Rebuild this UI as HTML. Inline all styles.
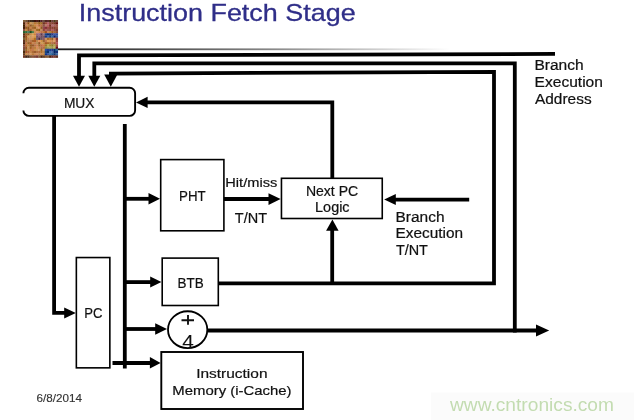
<!DOCTYPE html>
<html><head><meta charset="utf-8">
<style>
html,body{margin:0;padding:0;background:#fff;}
body{width:634px;height:420px;overflow:hidden;position:relative;}
svg{position:absolute;left:0;top:0;}
text{will-change:transform;}
text{font-family:"Liberation Sans",sans-serif;}
</style></head><body>
<svg width="634" height="420" viewBox="0 0 634 420">
<defs>
<linearGradient id="tg" x1="58" y1="0" x2="450" y2="0" gradientUnits="userSpaceOnUse">
<stop offset="0" stop-color="#1a1a1a"/><stop offset="0.55" stop-color="#888"/><stop offset="1" stop-color="#fff"/>
</linearGradient>
<filter id="bl" x="-10%" y="-10%" width="120%" height="120%"><feGaussianBlur stdDeviation="0.45"/></filter>
</defs>
<rect width="634" height="420" fill="#fff"/>
<!-- title -->
<text x="78.8" y="20.8" font-size="24" fill="#2f2e88" stroke="#2f2e88" stroke-width="0.3" textLength="276.8" lengthAdjust="spacingAndGlyphs">Instruction Fetch Stage</text>
<!-- chip -->
<g filter="url(#bl)">
<rect x="23.00" y="20.00" width="2.42" height="2.46" fill="#80613b"/>
<rect x="25.18" y="20.00" width="2.42" height="2.46" fill="#6f5133"/>
<rect x="27.35" y="20.00" width="2.42" height="2.46" fill="#4d2c1f"/>
<rect x="29.52" y="20.00" width="2.42" height="2.46" fill="#402b14"/>
<rect x="31.70" y="20.00" width="2.42" height="2.46" fill="#3a291c"/>
<rect x="33.88" y="20.00" width="2.42" height="2.46" fill="#3e1707"/>
<rect x="36.05" y="20.00" width="2.42" height="2.46" fill="#4d1a18"/>
<rect x="38.22" y="20.00" width="2.42" height="2.46" fill="#2f0f02"/>
<rect x="40.40" y="20.00" width="2.42" height="2.46" fill="#57242a"/>
<rect x="42.58" y="20.00" width="2.42" height="2.46" fill="#6b4f41"/>
<rect x="44.75" y="20.00" width="2.42" height="2.46" fill="#4f2621"/>
<rect x="46.92" y="20.00" width="2.42" height="2.46" fill="#5a2b2e"/>
<rect x="49.10" y="20.00" width="2.42" height="2.46" fill="#3e2406"/>
<rect x="51.27" y="20.00" width="2.42" height="2.46" fill="#6b3c3e"/>
<rect x="53.45" y="20.00" width="2.42" height="2.46" fill="#503e1b"/>
<rect x="55.62" y="20.00" width="2.42" height="2.46" fill="#704737"/>
<rect x="23.00" y="22.21" width="2.42" height="2.46" fill="#4f200a"/>
<rect x="25.18" y="22.21" width="2.42" height="2.46" fill="#bb7954"/>
<rect x="27.35" y="22.21" width="2.42" height="2.46" fill="#8e4e0f"/>
<rect x="29.52" y="22.21" width="2.42" height="2.46" fill="#d09a56"/>
<rect x="31.70" y="22.21" width="2.42" height="2.46" fill="#bf8f57"/>
<rect x="33.88" y="22.21" width="2.42" height="2.46" fill="#b9762f"/>
<rect x="36.05" y="22.21" width="2.42" height="2.46" fill="#b57c43"/>
<rect x="38.22" y="22.21" width="2.42" height="2.46" fill="#966112"/>
<rect x="40.40" y="22.21" width="2.42" height="2.46" fill="#a06f22"/>
<rect x="42.58" y="22.21" width="2.42" height="2.46" fill="#6e3128"/>
<rect x="44.75" y="22.21" width="2.42" height="2.46" fill="#974934"/>
<rect x="46.92" y="22.21" width="2.42" height="2.46" fill="#b56168"/>
<rect x="49.10" y="22.21" width="2.42" height="2.46" fill="#894634"/>
<rect x="51.27" y="22.21" width="2.42" height="2.46" fill="#863d2c"/>
<rect x="53.45" y="22.21" width="2.42" height="2.46" fill="#743421"/>
<rect x="55.62" y="22.21" width="2.42" height="2.46" fill="#5e0d0f"/>
<rect x="23.00" y="24.42" width="2.42" height="2.46" fill="#432006"/>
<rect x="25.18" y="24.42" width="2.42" height="2.46" fill="#c8805e"/>
<rect x="27.35" y="24.42" width="2.42" height="2.46" fill="#bb7e3a"/>
<rect x="29.52" y="24.42" width="2.42" height="2.46" fill="#935729"/>
<rect x="31.70" y="24.42" width="2.42" height="2.46" fill="#a77a38"/>
<rect x="33.88" y="24.42" width="2.42" height="2.46" fill="#ca8541"/>
<rect x="36.05" y="24.42" width="2.42" height="2.46" fill="#d78957"/>
<rect x="38.22" y="24.42" width="2.42" height="2.46" fill="#b3632e"/>
<rect x="40.40" y="24.42" width="2.42" height="2.46" fill="#b86c42"/>
<rect x="42.58" y="24.42" width="2.42" height="2.46" fill="#895144"/>
<rect x="44.75" y="24.42" width="2.42" height="2.46" fill="#b87d6a"/>
<rect x="46.92" y="24.42" width="2.42" height="2.46" fill="#bc6162"/>
<rect x="49.10" y="24.42" width="2.42" height="2.46" fill="#752b1f"/>
<rect x="51.27" y="24.42" width="2.42" height="2.46" fill="#b56a70"/>
<rect x="53.45" y="24.42" width="2.42" height="2.46" fill="#a6615d"/>
<rect x="55.62" y="24.42" width="2.42" height="2.46" fill="#9d5444"/>
<rect x="23.00" y="26.64" width="2.42" height="2.46" fill="#421f0b"/>
<rect x="25.18" y="26.64" width="2.42" height="2.46" fill="#99571d"/>
<rect x="27.35" y="26.64" width="2.42" height="2.46" fill="#8c521d"/>
<rect x="29.52" y="26.64" width="2.42" height="2.46" fill="#c88248"/>
<rect x="31.70" y="26.64" width="2.42" height="2.46" fill="#a76934"/>
<rect x="33.88" y="26.64" width="2.42" height="2.46" fill="#9a6322"/>
<rect x="36.05" y="26.64" width="2.42" height="2.46" fill="#cb965e"/>
<rect x="38.22" y="26.64" width="2.42" height="2.46" fill="#dc8e62"/>
<rect x="40.40" y="26.64" width="2.42" height="2.46" fill="#8c5b1d"/>
<rect x="42.58" y="26.64" width="2.42" height="2.46" fill="#944952"/>
<rect x="44.75" y="26.64" width="2.42" height="2.46" fill="#842d38"/>
<rect x="46.92" y="26.64" width="2.42" height="2.46" fill="#9d4d41"/>
<rect x="49.10" y="26.64" width="2.42" height="2.46" fill="#833c2c"/>
<rect x="51.27" y="26.64" width="2.42" height="2.46" fill="#883e33"/>
<rect x="53.45" y="26.64" width="2.42" height="2.46" fill="#863d2a"/>
<rect x="55.62" y="26.64" width="2.42" height="2.46" fill="#944f3d"/>
<rect x="23.00" y="28.85" width="2.42" height="2.46" fill="#874f46"/>
<rect x="25.18" y="28.85" width="2.42" height="2.46" fill="#c48a3e"/>
<rect x="27.35" y="28.85" width="2.42" height="2.46" fill="#93532b"/>
<rect x="29.52" y="28.85" width="2.42" height="2.46" fill="#9e6333"/>
<rect x="31.70" y="28.85" width="2.42" height="2.46" fill="#be894e"/>
<rect x="33.88" y="28.85" width="2.42" height="2.46" fill="#d09059"/>
<rect x="36.05" y="28.85" width="2.42" height="2.46" fill="#a26a28"/>
<rect x="38.22" y="28.85" width="2.42" height="2.46" fill="#945e13"/>
<rect x="40.40" y="28.85" width="2.42" height="2.46" fill="#c58c61"/>
<rect x="42.58" y="28.85" width="2.42" height="2.46" fill="#894839"/>
<rect x="44.75" y="28.85" width="2.42" height="2.46" fill="#b26061"/>
<rect x="46.92" y="28.85" width="2.42" height="2.46" fill="#965d51"/>
<rect x="49.10" y="28.85" width="2.42" height="2.46" fill="#954049"/>
<rect x="51.27" y="28.85" width="2.42" height="2.46" fill="#ac5b52"/>
<rect x="53.45" y="28.85" width="2.42" height="2.46" fill="#944c4b"/>
<rect x="55.62" y="28.85" width="2.42" height="2.46" fill="#7c3a2e"/>
<rect x="23.00" y="31.06" width="2.42" height="2.46" fill="#25612c"/>
<rect x="25.18" y="31.06" width="2.42" height="2.46" fill="#346838"/>
<rect x="27.35" y="31.06" width="2.42" height="2.46" fill="#507c61"/>
<rect x="29.52" y="31.06" width="2.42" height="2.46" fill="#164917"/>
<rect x="31.70" y="31.06" width="2.42" height="2.46" fill="#4e7d4b"/>
<rect x="33.88" y="31.06" width="2.42" height="2.46" fill="#c89052"/>
<rect x="36.05" y="31.06" width="2.42" height="2.46" fill="#dc9163"/>
<rect x="38.22" y="31.06" width="2.42" height="2.46" fill="#cb8348"/>
<rect x="40.40" y="31.06" width="2.42" height="2.46" fill="#be6c46"/>
<rect x="42.58" y="31.06" width="2.42" height="2.46" fill="#bd763a"/>
<rect x="44.75" y="31.06" width="2.42" height="2.46" fill="#9e4e1c"/>
<rect x="46.92" y="31.06" width="2.42" height="2.46" fill="#c88260"/>
<rect x="49.10" y="31.06" width="2.42" height="2.46" fill="#b18234"/>
<rect x="51.27" y="31.06" width="2.42" height="2.46" fill="#a25122"/>
<rect x="53.45" y="31.06" width="2.42" height="2.46" fill="#a9662f"/>
<rect x="55.62" y="31.06" width="2.42" height="2.46" fill="#874a36"/>
<rect x="23.00" y="33.27" width="2.42" height="2.46" fill="#5e3112"/>
<rect x="25.18" y="33.27" width="2.42" height="2.46" fill="#a15820"/>
<rect x="27.35" y="33.27" width="2.42" height="2.46" fill="#91531a"/>
<rect x="29.52" y="33.27" width="2.42" height="2.46" fill="#c58a4a"/>
<rect x="31.70" y="33.27" width="2.42" height="2.46" fill="#dba053"/>
<rect x="33.88" y="33.27" width="2.42" height="2.46" fill="#d08142"/>
<rect x="36.05" y="33.27" width="2.42" height="2.46" fill="#97646e"/>
<rect x="38.22" y="33.27" width="2.42" height="2.46" fill="#936383"/>
<rect x="40.40" y="33.27" width="2.42" height="2.46" fill="#583548"/>
<rect x="42.58" y="33.27" width="2.42" height="2.46" fill="#967280"/>
<rect x="44.75" y="33.27" width="2.42" height="2.46" fill="#134788"/>
<rect x="46.92" y="33.27" width="2.42" height="2.46" fill="#0b2c75"/>
<rect x="49.10" y="33.27" width="2.42" height="2.46" fill="#0a326f"/>
<rect x="51.27" y="33.27" width="2.42" height="2.46" fill="#2d3786"/>
<rect x="53.45" y="33.27" width="2.42" height="2.46" fill="#3857a8"/>
<rect x="55.62" y="33.27" width="2.42" height="2.46" fill="#324e9d"/>
<rect x="23.00" y="35.48" width="2.42" height="2.46" fill="#68331d"/>
<rect x="25.18" y="35.48" width="2.42" height="2.46" fill="#9d511b"/>
<rect x="27.35" y="35.48" width="2.42" height="2.46" fill="#d6a156"/>
<rect x="29.52" y="35.48" width="2.42" height="2.46" fill="#c89461"/>
<rect x="31.70" y="35.48" width="2.42" height="2.46" fill="#dfa05e"/>
<rect x="33.88" y="35.48" width="2.42" height="2.46" fill="#d99d4f"/>
<rect x="36.05" y="35.48" width="2.42" height="2.46" fill="#765063"/>
<rect x="38.22" y="35.48" width="2.42" height="2.46" fill="#885a6f"/>
<rect x="40.40" y="35.48" width="2.42" height="2.46" fill="#71495c"/>
<rect x="42.58" y="35.48" width="2.42" height="2.46" fill="#755962"/>
<rect x="44.75" y="35.48" width="2.42" height="2.46" fill="#193485"/>
<rect x="46.92" y="35.48" width="2.42" height="2.46" fill="#416bac"/>
<rect x="49.10" y="35.48" width="2.42" height="2.46" fill="#1c4076"/>
<rect x="51.27" y="35.48" width="2.42" height="2.46" fill="#3669a6"/>
<rect x="53.45" y="35.48" width="2.42" height="2.46" fill="#0a1a6d"/>
<rect x="55.62" y="35.48" width="2.42" height="2.46" fill="#3a5b90"/>
<rect x="23.00" y="37.69" width="2.42" height="2.46" fill="#766437"/>
<rect x="25.18" y="37.69" width="2.42" height="2.46" fill="#a15e23"/>
<rect x="27.35" y="37.69" width="2.42" height="2.46" fill="#c38250"/>
<rect x="29.52" y="37.69" width="2.42" height="2.46" fill="#cb915a"/>
<rect x="31.70" y="37.69" width="2.42" height="2.46" fill="#d48e4d"/>
<rect x="33.88" y="37.69" width="2.42" height="2.46" fill="#ad7326"/>
<rect x="36.05" y="37.69" width="2.42" height="2.46" fill="#715b6f"/>
<rect x="38.22" y="37.69" width="2.42" height="2.46" fill="#4f2c3c"/>
<rect x="40.40" y="37.69" width="2.42" height="2.46" fill="#69565c"/>
<rect x="42.58" y="37.69" width="2.42" height="2.46" fill="#8c5866"/>
<rect x="44.75" y="37.69" width="2.42" height="2.46" fill="#ca9664"/>
<rect x="46.92" y="37.69" width="2.42" height="2.46" fill="#a76a25"/>
<rect x="49.10" y="37.69" width="2.42" height="2.46" fill="#b77134"/>
<rect x="51.27" y="37.69" width="2.42" height="2.46" fill="#965e1d"/>
<rect x="53.45" y="37.69" width="2.42" height="2.46" fill="#de9062"/>
<rect x="55.62" y="37.69" width="2.42" height="2.46" fill="#84312f"/>
<rect x="23.00" y="39.91" width="2.42" height="2.46" fill="#613120"/>
<rect x="25.18" y="39.91" width="2.42" height="2.46" fill="#a07033"/>
<rect x="27.35" y="39.91" width="2.42" height="2.46" fill="#b97e4d"/>
<rect x="29.52" y="39.91" width="2.42" height="2.46" fill="#b6764e"/>
<rect x="31.70" y="39.91" width="2.42" height="2.46" fill="#a3642d"/>
<rect x="33.88" y="39.91" width="2.42" height="2.46" fill="#af5a26"/>
<rect x="36.05" y="39.91" width="2.42" height="2.46" fill="#bc864c"/>
<rect x="38.22" y="39.91" width="2.42" height="2.46" fill="#e39159"/>
<rect x="40.40" y="39.91" width="2.42" height="2.46" fill="#cf9041"/>
<rect x="42.58" y="39.91" width="2.42" height="2.46" fill="#9a662f"/>
<rect x="44.75" y="39.91" width="2.42" height="2.46" fill="#c07851"/>
<rect x="46.92" y="39.91" width="2.42" height="2.46" fill="#dca058"/>
<rect x="49.10" y="39.91" width="2.42" height="2.46" fill="#dd8e50"/>
<rect x="51.27" y="39.91" width="2.42" height="2.46" fill="#c8854c"/>
<rect x="53.45" y="39.91" width="2.42" height="2.46" fill="#e19e66"/>
<rect x="55.62" y="39.91" width="2.42" height="2.46" fill="#974943"/>
<rect x="23.00" y="42.12" width="2.42" height="2.46" fill="#4a2307"/>
<rect x="25.18" y="42.12" width="2.42" height="2.46" fill="#c16f44"/>
<rect x="27.35" y="42.12" width="2.42" height="2.46" fill="#936423"/>
<rect x="29.52" y="42.12" width="2.42" height="2.46" fill="#a95421"/>
<rect x="31.70" y="42.12" width="2.42" height="2.46" fill="#c88750"/>
<rect x="33.88" y="42.12" width="2.42" height="2.46" fill="#c27b4e"/>
<rect x="36.05" y="42.12" width="2.42" height="2.46" fill="#b78b53"/>
<rect x="38.22" y="42.12" width="2.42" height="2.46" fill="#935220"/>
<rect x="40.40" y="42.12" width="2.42" height="2.46" fill="#cd9953"/>
<rect x="42.58" y="42.12" width="2.42" height="2.46" fill="#c18e46"/>
<rect x="44.75" y="42.12" width="2.42" height="2.46" fill="#a45424"/>
<rect x="46.92" y="42.12" width="2.42" height="2.46" fill="#a86624"/>
<rect x="49.10" y="42.12" width="2.42" height="2.46" fill="#b07230"/>
<rect x="51.27" y="42.12" width="2.42" height="2.46" fill="#b16c46"/>
<rect x="53.45" y="42.12" width="2.42" height="2.46" fill="#a8602c"/>
<rect x="55.62" y="42.12" width="2.42" height="2.46" fill="#b0555d"/>
<rect x="23.00" y="44.33" width="2.42" height="2.46" fill="#854c37"/>
<rect x="25.18" y="44.33" width="2.42" height="2.46" fill="#b9672a"/>
<rect x="27.35" y="44.33" width="2.42" height="2.46" fill="#bc823c"/>
<rect x="29.52" y="44.33" width="2.42" height="2.46" fill="#945d22"/>
<rect x="31.70" y="44.33" width="2.42" height="2.46" fill="#955629"/>
<rect x="33.88" y="44.33" width="2.42" height="2.46" fill="#b87449"/>
<rect x="36.05" y="44.33" width="2.42" height="2.46" fill="#cd8052"/>
<rect x="38.22" y="44.33" width="2.42" height="2.46" fill="#9d6126"/>
<rect x="40.40" y="44.33" width="2.42" height="2.46" fill="#b96641"/>
<rect x="42.58" y="44.33" width="2.42" height="2.46" fill="#cc7a43"/>
<rect x="44.75" y="44.33" width="2.42" height="2.46" fill="#987829"/>
<rect x="46.92" y="44.33" width="2.42" height="2.46" fill="#b8ac4d"/>
<rect x="49.10" y="44.33" width="2.42" height="2.46" fill="#a1892d"/>
<rect x="51.27" y="44.33" width="2.42" height="2.46" fill="#887828"/>
<rect x="53.45" y="44.33" width="2.42" height="2.46" fill="#b0a04f"/>
<rect x="55.62" y="44.33" width="2.42" height="2.46" fill="#9b4d39"/>
<rect x="23.00" y="46.54" width="2.42" height="2.46" fill="#824a3d"/>
<rect x="25.18" y="46.54" width="2.42" height="2.46" fill="#99521f"/>
<rect x="27.35" y="46.54" width="2.42" height="2.46" fill="#c9935b"/>
<rect x="29.52" y="46.54" width="2.42" height="2.46" fill="#9c5e22"/>
<rect x="31.70" y="46.54" width="2.42" height="2.46" fill="#bc7845"/>
<rect x="33.88" y="46.54" width="2.42" height="2.46" fill="#ba7f3e"/>
<rect x="36.05" y="46.54" width="2.42" height="2.46" fill="#d98d5c"/>
<rect x="38.22" y="46.54" width="2.42" height="2.46" fill="#c18249"/>
<rect x="40.40" y="46.54" width="2.42" height="2.46" fill="#ad6d4b"/>
<rect x="42.58" y="46.54" width="2.42" height="2.46" fill="#b96841"/>
<rect x="44.75" y="46.54" width="2.42" height="2.46" fill="#95903d"/>
<rect x="46.92" y="46.54" width="2.42" height="2.46" fill="#a69f5c"/>
<rect x="49.10" y="46.54" width="2.42" height="2.46" fill="#a7a85d"/>
<rect x="51.27" y="46.54" width="2.42" height="2.46" fill="#9e9349"/>
<rect x="53.45" y="46.54" width="2.42" height="2.46" fill="#b9b958"/>
<rect x="55.62" y="46.54" width="2.42" height="2.46" fill="#6b0e1d"/>
<rect x="23.00" y="48.75" width="2.42" height="2.46" fill="#755242"/>
<rect x="25.18" y="48.75" width="2.42" height="2.46" fill="#976929"/>
<rect x="27.35" y="48.75" width="2.42" height="2.46" fill="#c58849"/>
<rect x="29.52" y="48.75" width="2.42" height="2.46" fill="#c5793e"/>
<rect x="31.70" y="48.75" width="2.42" height="2.46" fill="#c47a51"/>
<rect x="33.88" y="48.75" width="2.42" height="2.46" fill="#cb904b"/>
<rect x="36.05" y="48.75" width="2.42" height="2.46" fill="#c8955a"/>
<rect x="38.22" y="48.75" width="2.42" height="2.46" fill="#cf9468"/>
<rect x="40.40" y="48.75" width="2.42" height="2.46" fill="#9f6721"/>
<rect x="42.58" y="48.75" width="2.42" height="2.46" fill="#d19861"/>
<rect x="44.75" y="48.75" width="2.42" height="2.46" fill="#2b519c"/>
<rect x="46.92" y="48.75" width="2.42" height="2.46" fill="#223c8c"/>
<rect x="49.10" y="48.75" width="2.42" height="2.46" fill="#1a418a"/>
<rect x="51.27" y="48.75" width="2.42" height="2.46" fill="#243689"/>
<rect x="53.45" y="48.75" width="2.42" height="2.46" fill="#002b6b"/>
<rect x="55.62" y="48.75" width="2.42" height="2.46" fill="#2c6593"/>
<rect x="23.00" y="50.96" width="2.42" height="2.46" fill="#4a2e09"/>
<rect x="25.18" y="50.96" width="2.42" height="2.46" fill="#a9532c"/>
<rect x="27.35" y="50.96" width="2.42" height="2.46" fill="#ad6336"/>
<rect x="29.52" y="50.96" width="2.42" height="2.46" fill="#c68648"/>
<rect x="31.70" y="50.96" width="2.42" height="2.46" fill="#ac6c37"/>
<rect x="33.88" y="50.96" width="2.42" height="2.46" fill="#9b5c2d"/>
<rect x="36.05" y="50.96" width="2.42" height="2.46" fill="#b17040"/>
<rect x="38.22" y="50.96" width="2.42" height="2.46" fill="#b56d3a"/>
<rect x="40.40" y="50.96" width="2.42" height="2.46" fill="#af6e2b"/>
<rect x="42.58" y="50.96" width="2.42" height="2.46" fill="#be854a"/>
<rect x="44.75" y="50.96" width="2.42" height="2.46" fill="#1a477e"/>
<rect x="46.92" y="50.96" width="2.42" height="2.46" fill="#10326a"/>
<rect x="49.10" y="50.96" width="2.42" height="2.46" fill="#3d6eb3"/>
<rect x="51.27" y="50.96" width="2.42" height="2.46" fill="#4968a3"/>
<rect x="53.45" y="50.96" width="2.42" height="2.46" fill="#002663"/>
<rect x="55.62" y="50.96" width="2.42" height="2.46" fill="#162f75"/>
<rect x="23.00" y="53.18" width="2.42" height="2.46" fill="#683d24"/>
<rect x="25.18" y="53.18" width="2.42" height="2.46" fill="#ca8c45"/>
<rect x="27.35" y="53.18" width="2.42" height="2.46" fill="#b98052"/>
<rect x="29.52" y="53.18" width="2.42" height="2.46" fill="#d2935b"/>
<rect x="31.70" y="53.18" width="2.42" height="2.46" fill="#b97b3a"/>
<rect x="33.88" y="53.18" width="2.42" height="2.46" fill="#cc8954"/>
<rect x="36.05" y="53.18" width="2.42" height="2.46" fill="#d18c5b"/>
<rect x="38.22" y="53.18" width="2.42" height="2.46" fill="#b68151"/>
<rect x="40.40" y="53.18" width="2.42" height="2.46" fill="#cc8646"/>
<rect x="42.58" y="53.18" width="2.42" height="2.46" fill="#c38841"/>
<rect x="44.75" y="53.18" width="2.42" height="2.46" fill="#11348a"/>
<rect x="46.92" y="53.18" width="2.42" height="2.46" fill="#39569d"/>
<rect x="49.10" y="53.18" width="2.42" height="2.46" fill="#396fa3"/>
<rect x="51.27" y="53.18" width="2.42" height="2.46" fill="#1b558e"/>
<rect x="53.45" y="53.18" width="2.42" height="2.46" fill="#10356d"/>
<rect x="55.62" y="53.18" width="2.42" height="2.46" fill="#3d6ba3"/>
<rect x="23.00" y="55.39" width="2.42" height="2.46" fill="#703621"/>
<rect x="25.18" y="55.39" width="2.42" height="2.46" fill="#402414"/>
<rect x="27.35" y="55.39" width="2.42" height="2.46" fill="#4b2f1c"/>
<rect x="29.52" y="55.39" width="2.42" height="2.46" fill="#735233"/>
<rect x="31.70" y="55.39" width="2.42" height="2.46" fill="#8c543e"/>
<rect x="33.88" y="55.39" width="2.42" height="2.46" fill="#7c4b3a"/>
<rect x="36.05" y="55.39" width="2.42" height="2.46" fill="#75342f"/>
<rect x="38.22" y="55.39" width="2.42" height="2.46" fill="#855b36"/>
<rect x="40.40" y="55.39" width="2.42" height="2.46" fill="#482310"/>
<rect x="42.58" y="55.39" width="2.42" height="2.46" fill="#623e24"/>
<rect x="44.75" y="55.39" width="2.42" height="2.46" fill="#825531"/>
<rect x="46.92" y="55.39" width="2.42" height="2.46" fill="#845f39"/>
<rect x="49.10" y="55.39" width="2.42" height="2.46" fill="#512108"/>
<rect x="51.27" y="55.39" width="2.42" height="2.46" fill="#6c2a29"/>
<rect x="53.45" y="55.39" width="2.42" height="2.46" fill="#7b3b30"/>
<rect x="55.62" y="55.39" width="2.42" height="2.46" fill="#5c2d20"/>
</g>
<!-- thin line -->
<rect x="58" y="48.4" width="392" height="1.8" fill="url(#tg)"/>

<g stroke="#000" stroke-width="3.8" fill="none" stroke-linecap="butt" stroke-linejoin="miter">
<!-- top line 1 -->
<path d="M79,77 V55.3 L555,53.9"/>
<!-- line 2 -->
<path d="M94.3,77 V63.4 H514.8 V332.4"/>
<!-- line 3 -->
<path d="M110.9,76 V73.6 L494,71.9 V283.3 H217"/>
<!-- MUX in arrow -->
<path d="M146,102.3 H332.3 V178"/>
<!-- left vertical -->
<path d="M54.1,116 V312.8 H65"/>
<!-- center vertical -->
<path d="M124.8,124 V368.6"/>
<path d="M124.8,198.8 H150"/>
<path d="M223,199 H270"/>
<path d="M395,199.6 H469.2"/>
<path d="M124.8,282.1 H151"/>
<path d="M332.2,283 V229"/>
<path d="M124.8,329 H156"/>
<path d="M208,330.5 H537"/>
<path d="M112.5,363 H151"/>
</g>
<g fill="#000">
<polygon points="73,75.7 85,75.7 79,86.8"/>
<polygon points="88.3,75.7 100.3,75.7 94.3,86.8"/>
<polygon points="104.2,74.5 117.4,74.5 110.8,86.7"/>
<polygon points="136,102.4 147.6,96.7 147.6,108.1"/>
<polygon points="75.8,313 64.2,307.6 64.2,318.6"/>
<polygon points="160,198.8 148.5,193 148.5,204.5"/>
<polygon points="280.6,199 268.5,193.2 268.5,205"/>
<polygon points="384.2,199.6 395.8,194 395.8,205"/>
<polygon points="161.4,282 150.2,276.6 150.2,287.6"/>
<polygon points="332.4,219.6 326.1,230.8 338.6,230.8"/>
<polygon points="167,329 155.2,323.3 155.2,334.7"/>
<polygon points="549.2,330.5 536,324.6 536,336.4"/>
<polygon points="160.6,363 149.9,357 149.9,368.6"/>
</g>
<!-- boxes -->
<g fill="#fff" stroke="#000">
<path d="M23.4,93.3 A5.5,5.5 0 0 1 28.9,87.8 H129.6 A5.5,5.5 0 0 1 135.1,93.3 V110.4 A5.5,5.5 0 0 1 129.6,115.9 H28.9 A5.5,5.5 0 0 1 23.4,110.4" stroke-width="1.9" fill="#fff"/>
<rect x="76.35" y="257.55" width="33.5" height="110.3" stroke-width="1.6"/>
<rect x="160.7" y="159.6" width="63.2" height="71.2" stroke-width="1.6"/>
<rect x="281.45" y="178.3" width="100.8" height="40.2" stroke-width="1.6"/>
<rect x="162.2" y="258.1" width="56.1" height="47.4" stroke-width="1.6"/>
<ellipse cx="187.65" cy="329.7" rx="19.65" ry="18.45" stroke-width="1.8"/>
<rect x="161.3" y="352" width="141.7" height="57" stroke-width="1.9"/>
</g>
<g fill="#111" stroke="#111" stroke-width="0.2">
<text x="63.9" y="107.6" font-size="14.4" textLength="30.6" lengthAdjust="spacingAndGlyphs">MUX</text>
<text x="84.2" y="318.4" font-size="14.8" textLength="18.2" lengthAdjust="spacingAndGlyphs">PC</text>
<text x="179.1" y="200.9" font-size="14.4" textLength="26.6" lengthAdjust="spacingAndGlyphs">PHT</text>
<text x="177.5" y="288" font-size="14.8" textLength="26.2" lengthAdjust="spacingAndGlyphs">BTB</text>
<text x="305.9" y="195.5" font-size="14.4" textLength="52.3" lengthAdjust="spacingAndGlyphs">Next PC</text>
<text x="315.1" y="212.1" font-size="14.2" textLength="34.5" lengthAdjust="spacingAndGlyphs">Logic</text>
<text x="225.3" y="186.9" font-size="13.6" textLength="52" lengthAdjust="spacingAndGlyphs">Hit/miss</text>
<text x="234.8" y="222.7" font-size="14" textLength="32.2" lengthAdjust="spacingAndGlyphs">T/NT</text>
<text x="395.5" y="221.8" font-size="14" textLength="49" lengthAdjust="spacingAndGlyphs">Branch</text>
<text x="395.5" y="237.9" font-size="14" textLength="67.6" lengthAdjust="spacingAndGlyphs">Execution</text>
<text x="395.9" y="254.7" font-size="14" textLength="32" lengthAdjust="spacingAndGlyphs">T/NT</text>
<text x="534.4" y="69.8" font-size="14" textLength="49.2" lengthAdjust="spacingAndGlyphs">Branch</text>
<text x="534.6" y="86.6" font-size="14" textLength="68.3" lengthAdjust="spacingAndGlyphs">Execution</text>
<text x="535" y="103.8" font-size="14" textLength="56.6" lengthAdjust="spacingAndGlyphs">Address</text>
<text x="196.2" y="378.4" font-size="13.6" textLength="71.3" lengthAdjust="spacingAndGlyphs">Instruction</text>
<text x="172.3" y="395" font-size="13.5" textLength="119.2" lengthAdjust="spacingAndGlyphs">Memory (i-Cache)</text>
<path d="M181.5,320.2 H194 M188,315 V324.8" stroke="#111" stroke-width="1.9"/>
<text x="182.2" y="347.9" font-size="17.6" stroke-width="0.1" textLength="11.6" lengthAdjust="spacingAndGlyphs">4</text>
<text x="36.6" y="402.3" font-size="11.5" fill="#333" stroke="#333" stroke-width="0.15" textLength="45.4" lengthAdjust="spacingAndGlyphs">6/8/2014</text>
</g>
<rect x="431" y="392.5" width="203" height="27.5" fill="#fbfbfb"/>
<text x="450" y="410.6" font-size="18" fill="#c3dcb1" textLength="164" lengthAdjust="spacingAndGlyphs">www.cntronics.com</text>
</svg>
</body></html>
